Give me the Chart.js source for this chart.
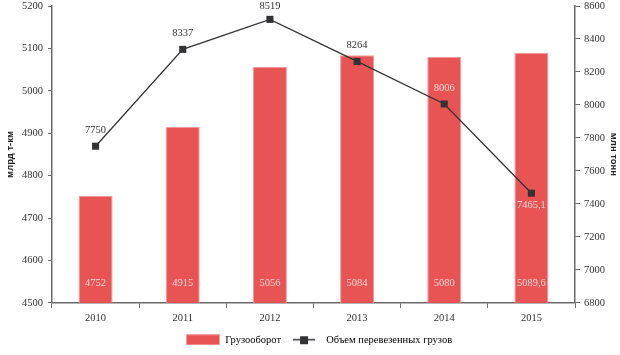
<!DOCTYPE html>
<html>
<head>
<meta charset="utf-8">
<script src="https://cdn.jsdelivr.net/npm/chart.js@4/dist/chart.umd.min.js"></script>
<style>
html,body{margin:0;padding:0;background:#fff;}
#wrap{width:620px;height:355px;position:relative;}
</style>
</head>
<body>
<div id="wrap"><canvas id="c" width="620" height="355"></canvas></div>
<script>
const categories = ['2010', '2011', '2012', '2013', '2014', '2015'];
const freightTurnover = [4752, 4915, 5056, 5084, 5080, 5089.6];
const cargoVolume = [7750, 8337, 8519, 8264, 8006, 7465.1];
const seriesNames = ['Грузооборот', 'Объем перевезенных грузов'];
const axisTitles = ['млрд т-км', 'млн тонн'];

const SERIF = '"Liberation Serif", "DejaVu Serif", serif';
const SANS = '"Liberation Sans", "DejaVu Sans", sans-serif';
const BAR = '#e85353';
const LINE = '#333336';
const AXIS = '#6a6a6a';
const FS = 10.5;

function fmt(v){ return String(v).replace('.', ','); }

function legendBarIcon(){
  const c = document.createElement('canvas'); c.width = 34; c.height = 11;
  const x = c.getContext('2d');
  x.fillStyle = BAR; x.fillRect(0,0,34,11);
  x.strokeStyle = '#f4a0a0'; x.lineWidth = 1; x.strokeRect(0.5,0.5,33,10);
  return c;
}
function legendLineIcon(){
  const c = document.createElement('canvas'); c.width = 22; c.height = 11;
  const x = c.getContext('2d');
  x.strokeStyle = LINE; x.lineWidth = 1.5;
  x.beginPath(); x.moveTo(0,5.5); x.lineTo(22,5.5); x.stroke();
  x.fillStyle = LINE; x.fillRect(7,2,8,8);
  return c;
}

const labelPlugin = {
  id: 'valueLabels',
  afterLayout(chart){
    if (chart.legend) { chart.legend.left += 9; chart.legend.right += 9; }
  },
  afterDatasetsDraw(chart, args, opts){
    const ctx = chart.ctx;
    const barMeta = chart.getDatasetMeta(0);
    const lineMeta = chart.getDatasetMeta(1);
    const yScale = chart.scales.y;
    const baseY = yScale.getPixelForValue(yScale.min);
    ctx.save();
    ctx.font = FS + 'px ' + SERIF;
    ctx.textAlign = 'center';
    ctx.textBaseline = 'middle';
    barMeta.data.forEach((bar, i) => {
      ctx.fillStyle = '#f9d6d6';
      ctx.fillText(fmt(chart.data.datasets[0].data[i]), bar.x, baseY - 20);
    });
    lineMeta.data.forEach((pt, i) => {
      const below = (opts.below || []).includes(i);
      const y = below ? pt.y + 12 : Math.max(pt.y - 16, chart.chartArea.top);
      const bar = barMeta.data[i];
      const inside = y > bar.y + 5;
      ctx.fillStyle = inside ? '#f9d6d6' : '#333';
      ctx.fillText(fmt(chart.data.datasets[1].data[i]), pt.x, y);
    });
    ctx.restore();
  }
};

new Chart(document.getElementById('c'), {
  type: 'bar',
  data: {
    labels: categories,
    datasets: [
      {
        type: 'bar',
        label: seriesNames[0],
        data: freightTurnover,
        backgroundColor: BAR,
        borderColor: '#f29a9a',
        borderWidth: 1,
        yAxisID: 'y',
        barPercentage: 0.78,
        categoryPercentage: 0.5,
        order: 2
      },
      {
        type: 'line',
        label: seriesNames[1],
        data: cargoVolume,
        borderColor: LINE,
        backgroundColor: LINE,
        borderWidth: 1.3,
        pointStyle: 'rect',
        pointRadius: 5,
        pointBackgroundColor: LINE,
        pointBorderColor: LINE,
        pointBorderWidth: 0,
        tension: 0,
        yAxisID: 'y1',
        order: 1
      }
    ]
  },
  options: {
    responsive: false,
    animation: false,
    devicePixelRatio: 1,
    layout: { padding: { top: 6, bottom: 0, left: 0, right: 0 } },
    plugins: {
      tooltip: { enabled: false },
      valueLabels: { below: [5] },
      legend: {
        position: 'bottom',
        labels: {
          usePointStyle: true,
          pointStyleWidth: 34,
          boxHeight: 11,
          padding: 6,
          color: '#333',
          font: { family: SERIF, size: FS },
          generateLabels(chart){
            return [
              { text: seriesNames[0], pointStyle: legendBarIcon(), datasetIndex: 0, fillStyle: BAR, strokeStyle: BAR, lineWidth: 0, hidden: false },
              { text: seriesNames[1], pointStyle: legendLineIcon(), datasetIndex: 1, fillStyle: LINE, strokeStyle: LINE, lineWidth: 0, hidden: false }
            ];
          }
        }
      }
    },
    scales: {
      x: {
        offset: true,
        grid: { display: true, drawOnChartArea: false, drawTicks: true, tickLength: 5, offset: true, color: AXIS },
        border: { display: true, color: AXIS, width: 1.5 },
        ticks: { color: '#333', font: { family: SERIF, size: FS }, padding: 4, maxRotation: 0 }
      },
      y: {
        position: 'left',
        min: 4500, max: 5200,
        ticks: { stepSize: 100, color: '#333', font: { family: SERIF, size: FS }, padding: 5, callback: v => String(v) },
        grid: { drawOnChartArea: false, drawTicks: true, tickLength: 4, color: AXIS },
        border: { display: true, color: AXIS, width: 1.5 },
        title: { display: true, text: axisTitles[0], color: '#222', font: { family: SANS, size: 9.5, weight: 'bold' }, padding: { top: 5, bottom: 0 } },
        afterFit(s){ s.width = 52; s.paddingTop = 0; s.paddingBottom = 0; }
      },
      y1: {
        position: 'right',
        min: 6800, max: 8600,
        ticks: { stepSize: 200, color: '#333', font: { family: SERIF, size: FS }, padding: 4, callback: v => String(v) },
        grid: { drawOnChartArea: false, drawTicks: true, tickLength: 5, color: AXIS },
        border: { display: true, color: AXIS, width: 1.5 },
        title: { display: true, text: axisTitles[1], color: '#222', font: { family: SANS, size: 9.5, weight: 'bold' }, padding: { top: 1, bottom: 0 } },
        afterFit(s){ s.width = 45; s.paddingTop = 0; s.paddingBottom = 0; }
      }
    }
  },
  plugins: [labelPlugin]
});
</script>
</body>
</html>
